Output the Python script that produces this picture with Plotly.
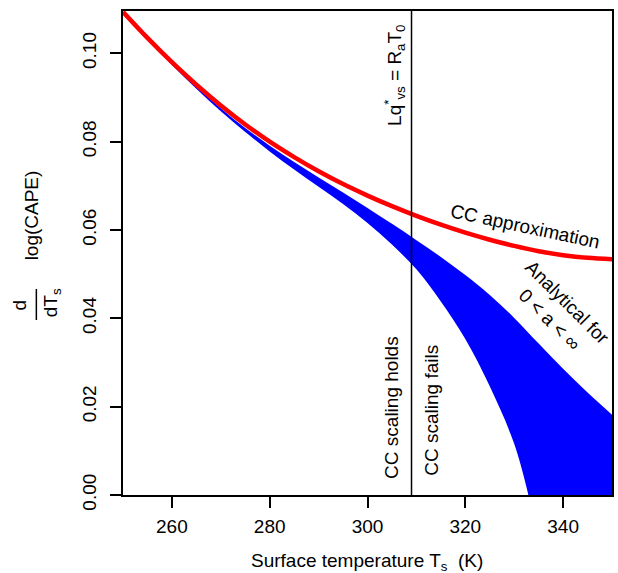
import plotly.graph_objects as go

# Surface temperature grid (K)
T_cc = [250, 255, 260, 265, 270, 275, 280, 285, 290, 295, 300, 305, 310,
        315, 320, 325, 330, 335, 340, 345, 350]
# CC approximation of d/dTs log(CAPE)
cc_approx = [0.1094, 0.1035, 0.0980, 0.0929, 0.0882, 0.0839, 0.0800, 0.0765,
             0.0733, 0.0704, 0.0678, 0.0654, 0.0632, 0.0612, 0.0594, 0.0578,
             0.0564, 0.0552, 0.0543, 0.0537, 0.0534]

# Analytical band: upper edge
T_upper = [250, 255, 260, 265, 270, 275, 280, 285, 290, 295, 300, 305, 310,
           315, 320, 325, 330, 335, 340, 345, 350]
analytic_upper = [0.1094, 0.1034, 0.0978, 0.0925, 0.0876, 0.0831, 0.0791,
                  0.0754, 0.0719, 0.0685, 0.0650, 0.0614, 0.0577, 0.0539,
                  0.0498, 0.0453, 0.0401, 0.0343, 0.0286, 0.0232, 0.0182]

# Analytical band: lower edge (reaches zero near 333 K)
T_lower = [250, 255, 260, 265, 270, 275, 280, 285, 290, 295, 300, 305, 310,
           315, 320, 325, 330, 332.9]
analytic_lower = [0.1094, 0.1032, 0.0974, 0.0920, 0.0869, 0.0822, 0.0778,
                  0.0737, 0.0698, 0.0659, 0.0616, 0.0567, 0.0511, 0.0438,
                  0.0353, 0.0246, 0.0116, 0.0]

# Temperature where Lq*_vs = R_a T_0
T_break = 309

x_ticks = [260, 280, 300, 320, 340]
y_ticks = [0.00, 0.02, 0.04, 0.06, 0.08, 0.10]

W, H = 618, 573
ML, MR, MT, MB = 123, 4, 11, 78
PW, PH = W - ML - MR, H - MT - MB
FONT = "Liberation Sans, Arial, sans-serif"
FS = 19


def px(x, y):
    """Pixel position on the page -> paper coordinates."""
    return (x - ML) / PW, (H - MB - y) / PH


fig = go.Figure()

# band = area under the upper edge, minus the area under the lower edge
fig.add_trace(go.Scatter(x=T_upper, y=analytic_upper, mode="lines",
                         line=dict(width=0, shape="spline", color="#0000ff"),
                         fill="tozeroy", fillcolor="#0000ff",
                         hoverinfo="skip", showlegend=False))
fig.add_trace(go.Scatter(x=T_lower, y=analytic_lower, mode="lines",
                         line=dict(width=0, shape="spline", color="#ffffff"),
                         fill="tozeroy", fillcolor="#ffffff",
                         hoverinfo="skip", showlegend=False))
fig.add_trace(go.Scatter(x=T_cc, y=cc_approx, mode="lines",
                         line=dict(width=4.5, color="#ff0000", shape="spline"),
                         showlegend=False))

fig.add_shape(type="line", xref="x", yref="paper", x0=T_break, x1=T_break,
              y0=0, y1=1, line=dict(color="black", width=1.5))

annotations = []


def note(text, x, y, angle=0, size=FS):
    xp, yp = px(x, y)
    annotations.append(dict(text=text, xref="paper", yref="paper", x=xp, y=yp,
                            xanchor="center", yanchor="middle",
                            textangle=angle, showarrow=False,
                            font=dict(family=FONT, size=size, color="black")))


note("CC approximation", 527, 227, angle=12)
note("Analytical for<br>0 < a < \u221e", 560, 311, angle=45)
note("Lq<sup>*</sup><sub>vs</sub> = R<sub>a</sub>T<sub>0</sub>", 395, 75, angle=-90)
note("CC scaling holds", 393, 407, angle=-90)
note("CC scaling fails", 432, 410, angle=-90)

# y-axis title: d/dTs log(CAPE)
note("d", 19, 305, angle=-90)
note("dT<sub>s</sub>", 52, 303, angle=-90)
note("log(CAPE)", 31, 215, angle=-90)
note("Surface temperature T<sub>s</sub>  (K)", 368, 562)

fx, fy0 = px(36, 289)
_, fy1 = px(36, 320)
fig.add_shape(type="line", xref="paper", yref="paper", x0=fx, x1=fx,
              y0=fy0, y1=fy1, line=dict(color="black", width=1.5))

axis_common = dict(showgrid=False, zeroline=False, showline=True,
                   linecolor="black", linewidth=2, mirror=True,
                   ticks="outside", ticklen=11, tickwidth=1.5,
                   tickcolor="black",
                   tickfont=dict(family=FONT, size=FS, color="black"))

fig.update_xaxes(range=[250, 350], tickvals=x_ticks,
                 ticklabelstandoff=2, **axis_common)
fig.update_yaxes(range=[0, 0.1096], tickvals=y_ticks, tickformat=".2f",
                 tickangle=-90, ticklabelstandoff=6, **axis_common)

fig.update_layout(width=W, height=H,
                  margin=dict(l=ML, r=MR, t=MT, b=MB, pad=0),
                  paper_bgcolor="white", plot_bgcolor="white",
                  annotations=annotations,
                  font=dict(family=FONT, size=FS, color="black"))

fig.write_html("out.html")
